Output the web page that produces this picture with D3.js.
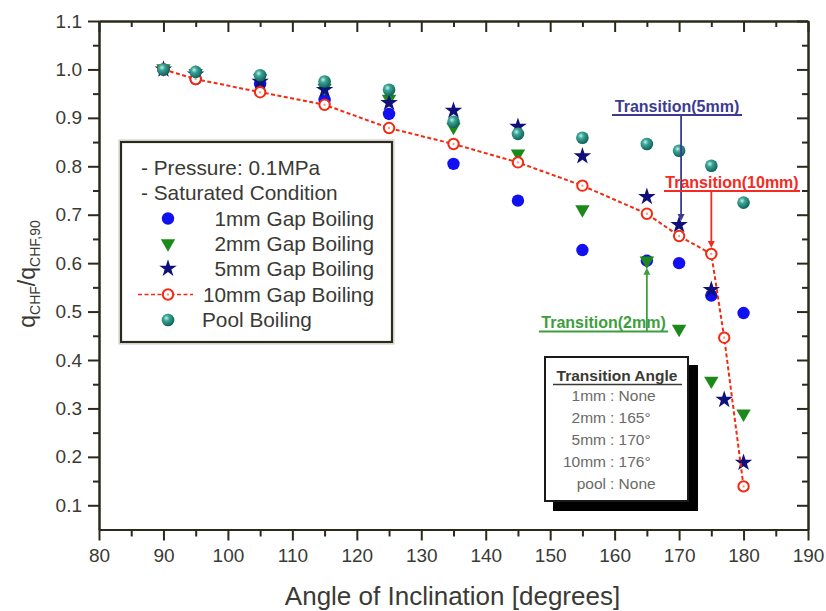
<!DOCTYPE html>
<html>
<head>
<meta charset="utf-8">
<script src="https://cdnjs.cloudflare.com/ajax/libs/d3/7.8.5/d3.min.js"></script>
<style>
  body { margin: 0; background: #fff; }
  text { font-family: "Liberation Sans", Arial, sans-serif; }
</style>
</head>
<body>
<div id="chart"></div>
<script>
// values
var angles = [90, 95, 105, 115, 125, 135, 145, 155, 165, 170, 175, 180];
var angles2 = [90, 95, 105, 115, 125, 135, 145, 155, 165, 170, 175, 177, 180];
var gap1mm = [1.0, 0.98, 0.97, 0.937, 0.908, 0.805, 0.729, 0.627, 0.605, 0.600, 0.533, 0.497];
var gap2mm = [1.0, 0.99, 0.98, 0.96, 0.937, 0.879, 0.824, 0.709, 0.603, 0.462, 0.355, 0.287];
var gap5mm = [1.0, 0.99, 0.975, 0.958, 0.931, 0.915, 0.882, 0.821, 0.737, 0.679, 0.545, 0.318, 0.188];
var gap10mm = [1.0, 0.98, 0.953, 0.927, 0.879, 0.846, 0.808, 0.760, 0.702, 0.656, 0.619, 0.446, 0.139];
var pool = [1.0, 0.995, 0.988, 0.975, 0.958, 0.892, 0.867, 0.859, 0.846, 0.832, 0.801, 0.725];

var xTicks = d3.range(80, 191, 10);
var yTicks = [0.1, 0.2, 0.3, 0.4, 0.5, 0.6, 0.7, 0.8, 0.9, 1.0, 1.1];
var legendNotes = ["- Pressure: 0.1MPa", "- Saturated Condition"];
var legendNames = ["1mm Gap Boiling", "2mm Gap Boiling", "5mm Gap Boiling", "10mm Gap Boiling", "Pool Boiling"];
var transitionRows = [["1mm", "None"], ["2mm", "165°"], ["5mm", "170°"], ["10mm", "176°"], ["pool", "None"]];

var W = 826, H = 611;
var plotL = 99, plotR = 808, plotT = 21, plotB = 529.5;
var axisColor = "#2b2a1c";
var textColor = "#3a3a34";

var svg = d3.select("#chart").append("svg")
  .attr("width", W).attr("height", H);

var defs = svg.append("defs");
var grad = defs.append("radialGradient").attr("id", "sphere")
  .attr("cx", "38%").attr("cy", "35%").attr("r", "65%");
grad.append("stop").attr("offset", "0%").attr("stop-color", "#c9f0ea");
grad.append("stop").attr("offset", "35%").attr("stop-color", "#3aa596");
grad.append("stop").attr("offset", "100%").attr("stop-color", "#0f6259");

var x = d3.scaleLinear().domain([80, 190]).range([plotL, plotR]);
var y = d3.scaleLinear().domain([0.05, 1.1]).range([plotB, plotT]);

function styleAxis(g) {
  g.selectAll("path.domain").attr("stroke", axisColor).attr("stroke-width", 2);
  g.selectAll("line").attr("stroke", axisColor).attr("stroke-width", 2);
  g.selectAll("text").attr("fill", textColor).style("font-size", "19px");
}

// minor ticks first, then majors with labels
svg.append("g").attr("transform", "translate(0," + plotB + ")")
  .call(d3.axisBottom(x).tickValues(d3.range(85, 190, 10)).tickSize(7).tickSizeOuter(0).tickFormat(""))
  .call(styleAxis);
svg.append("g").attr("transform", "translate(0," + plotB + ")")
  .call(d3.axisBottom(x).tickValues(xTicks).tickSize(11).tickSizeOuter(0).tickPadding(8).tickFormat(d3.format("d")))
  .call(styleAxis);

svg.append("g").attr("transform", "translate(" + plotL + ",0)")
  .call(d3.axisLeft(y).tickValues(d3.range(0.15, 1.1, 0.1)).tickSize(6).tickSizeOuter(0).tickFormat(""))
  .call(styleAxis);
svg.append("g").attr("transform", "translate(" + plotL + ",0)")
  .call(d3.axisLeft(y).tickValues(yTicks).tickSize(11).tickSizeOuter(0).tickPadding(6).tickFormat(d3.format(".1f")))
  .call(styleAxis);

// right and top: ticks pointing inward, no labels
svg.append("g").attr("transform", "translate(" + plotR + ",0)")
  .call(d3.axisLeft(y).tickValues(d3.range(0.15, 1.1, 0.1)).tickSize(6).tickSizeOuter(0).tickFormat(""))
  .call(styleAxis);
svg.append("g").attr("transform", "translate(" + plotR + ",0)")
  .call(d3.axisLeft(y).tickValues(yTicks).tickSize(11).tickSizeOuter(0).tickFormat(""))
  .call(styleAxis);
svg.append("g").attr("transform", "translate(0," + plotT + ")")
  .call(d3.axisBottom(x).tickValues(d3.range(85, 190, 10)).tickSize(6).tickSizeOuter(0).tickFormat(""))
  .call(styleAxis);
svg.append("g").attr("transform", "translate(0," + plotT + ")")
  .call(d3.axisBottom(x).tickValues(xTicks).tickSize(11).tickSizeOuter(0).tickFormat(""))
  .call(styleAxis);

// axis titles
svg.append("text")
  .attr("x", (plotL + plotR) / 2 - 1).attr("y", 605)
  .attr("text-anchor", "middle")
  .attr("fill", textColor)
  .style("font-size", "26px")
  .text("Angle of Inclination [degrees]");

var ylab = svg.append("text")
  .attr("transform", "translate(35,274) rotate(-90)")
  .attr("text-anchor", "middle")
  .attr("fill", textColor)
  .style("font-size", "23px");
ylab.append("tspan").text("q");
ylab.append("tspan").attr("dy", 5).style("font-size", "14px").text("CHF");
ylab.append("tspan").attr("dy", -5).text("/q");
ylab.append("tspan").attr("dy", 5).style("font-size", "14px").text("CHF,90");

// marker helpers
function circleMark(g, cx, cy) {
  g.append("circle").attr("cx", cx).attr("cy", cy).attr("r", 6.2).attr("fill", "#1010f0");
}
function triMark(g, cx, cy) {
  g.append("path").attr("d", d3.symbol().type(d3.symbolTriangle).size(90)())
    .attr("transform", "translate(" + cx + "," + (cy - 1) + ") rotate(180)")
    .attr("fill", "#1b8a1b");
}
function starMark(g, cx, cy) {
  g.append("path").attr("d", d3.symbol().type(d3.symbolStar).size(95)())
    .attr("transform", "translate(" + cx + "," + cy + ")")
    .attr("fill", "#10107a");
}
function openMark(g, cx, cy) {
  g.append("circle").attr("cx", cx).attr("cy", cy).attr("r", 5.2)
    .attr("fill", "#fff").attr("stroke", "#f42a10").attr("stroke-width", 2);
  g.append("circle").attr("cx", cx).attr("cy", cy).attr("r", 1.2).attr("fill", "#f7a090");
}
function sphereMark(g, cx, cy) {
  g.append("circle").attr("cx", cx).attr("cy", cy).attr("r", 6.3).attr("fill", "url(#sphere)");
}

var marks = svg.append("g");
angles.forEach(function(a, i) { circleMark(marks, x(a), y(gap1mm[i])); });
angles.forEach(function(a, i) { triMark(marks, x(a), y(gap2mm[i])); });
angles2.forEach(function(a, i) { starMark(marks, x(a), y(gap5mm[i])); });

var line10 = angles2.map(function(a, i) { return [a, gap10mm[i]]; });
marks.append("path")
  .datum(line10)
  .attr("fill", "none")
  .attr("stroke", "#f42a10")
  .attr("stroke-width", 2)
  .attr("stroke-dasharray", "4,2.5")
  .attr("d", d3.line().x(function(d) { return x(d[0]); }).y(function(d) { return y(d[1]); }));
line10.forEach(function(d) { openMark(marks, x(d[0]), y(d[1])); });
angles.forEach(function(a, i) { sphereMark(marks, x(a), y(pool[i])); });

// legend box
var lg = svg.append("g");
lg.append("rect").attr("x", 119).attr("y", 140).attr("width", 275).attr("height", 204)
  .attr("fill", "none").attr("stroke", "#c8c8c0").attr("stroke-width", 1);
lg.append("rect").attr("x", 121).attr("y", 142).attr("width", 271).attr("height", 200)
  .attr("fill", "#fff").attr("stroke", axisColor).attr("stroke-width", 2.2);
legendNotes.forEach(function(t, i) {
  lg.append("text").attr("x", 141).attr("y", 175 + i * 25.3)
    .attr("fill", textColor).style("font-size", "20.8px").text(t);
});
legendNames.forEach(function(t, i) {
  var ty = 225.8 + i * 25.3;
  lg.append("text")
    .attr("x", i < 4 ? 374 : 202).attr("y", ty)
    .attr("text-anchor", i < 4 ? "end" : "start")
    .attr("fill", textColor).style("font-size", "20.8px").text(t);
});
circleMark(lg, 168, 218.5);
triMark(lg, 168, 244.5);
starMark(lg, 168, 268.5);
lg.append("line").attr("x1", 138).attr("x2", 193).attr("y1", 294.5).attr("y2", 294.5)
  .attr("stroke", "#f42a10").attr("stroke-width", 1.6).attr("stroke-dasharray", "4,2.5");
openMark(lg, 168, 294.5);
sphereMark(lg, 168, 320);

// transition annotations
function arrowDown(color, xpos, y1, y2) {
  svg.append("line").attr("x1", xpos).attr("x2", xpos).attr("y1", y1).attr("y2", y2 - 5)
    .attr("stroke", color).attr("stroke-width", 1.8);
  svg.append("path").attr("d", "M" + (xpos - 3.5) + "," + (y2 - 7) + "L" + (xpos + 3.5) + "," + (y2 - 7) + "L" + xpos + "," + y2 + "Z")
    .attr("fill", color);
}
function arrowUp(color, xpos, y1, y2) {
  svg.append("line").attr("x1", xpos).attr("x2", xpos).attr("y1", y1).attr("y2", y2 + 5)
    .attr("stroke", color).attr("stroke-width", 1.8);
  svg.append("path").attr("d", "M" + (xpos - 3.5) + "," + (y2 + 7) + "L" + (xpos + 3.5) + "," + (y2 + 7) + "L" + xpos + "," + y2 + "Z")
    .attr("fill", color);
}
function label(txt, color, x1, x2, base) {
  svg.append("text").attr("x", (x1 + x2) / 2).attr("y", base)
    .attr("text-anchor", "middle").attr("fill", color)
    .style("font-size", "16px").style("font-weight", "bold").text(txt);
  svg.append("line").attr("x1", x1).attr("x2", x2).attr("y1", base + 3.5).attr("y2", base + 3.5)
    .attr("stroke", color).attr("stroke-width", 1.8);
}

label("Transition(5mm)", "#3b3b92", 612, 742, 111.5);
arrowDown("#3b3b92", x(170) + 2, 115, y(0.679) - 4);

label("Transition(10mm)", "#f52a22", 664, 800, 187.5);
arrowDown("#f52a22", x(175), 191, y(0.619) - 6);

label("Transition(2mm)", "#3e9e3e", 539, 668, 328);
arrowUp("#3e9e3e", x(165), 331.5, y(0.603) + 6);

// transition angle table
var tb = svg.append("g");
tb.append("rect").attr("x", 553).attr("y", 365).attr("width", 145).attr("height", 146).attr("fill", "#000");
tb.append("rect").attr("x", 545).attr("y", 357).attr("width", 143).attr("height", 144)
  .attr("fill", "#fff").attr("stroke", "#1a1a1a").attr("stroke-width", 2);
tb.append("text").attr("x", 617).attr("y", 381).attr("text-anchor", "middle")
  .attr("fill", "#3a3a34").style("font-size", "15.5px").style("font-weight", "bold")
  .text("Transition Angle");
tb.append("line").attr("x1", 553).attr("x2", 682).attr("y1", 384.5).attr("y2", 384.5)
  .attr("stroke", "#3a3a34").attr("stroke-width", 1.6);
transitionRows.forEach(function(r, i) {
  var ty = 400.5 + i * 22.2;
  tb.append("text").attr("x", 606).attr("y", ty).attr("text-anchor", "end")
    .attr("fill", "#6a6a66").style("font-size", "15.5px").text(r[0]);
  tb.append("text").attr("x", 610).attr("y", ty)
    .attr("fill", "#6a6a66").style("font-size", "15.5px").text(": " + r[1]);
});
</script>
</body>
</html>
